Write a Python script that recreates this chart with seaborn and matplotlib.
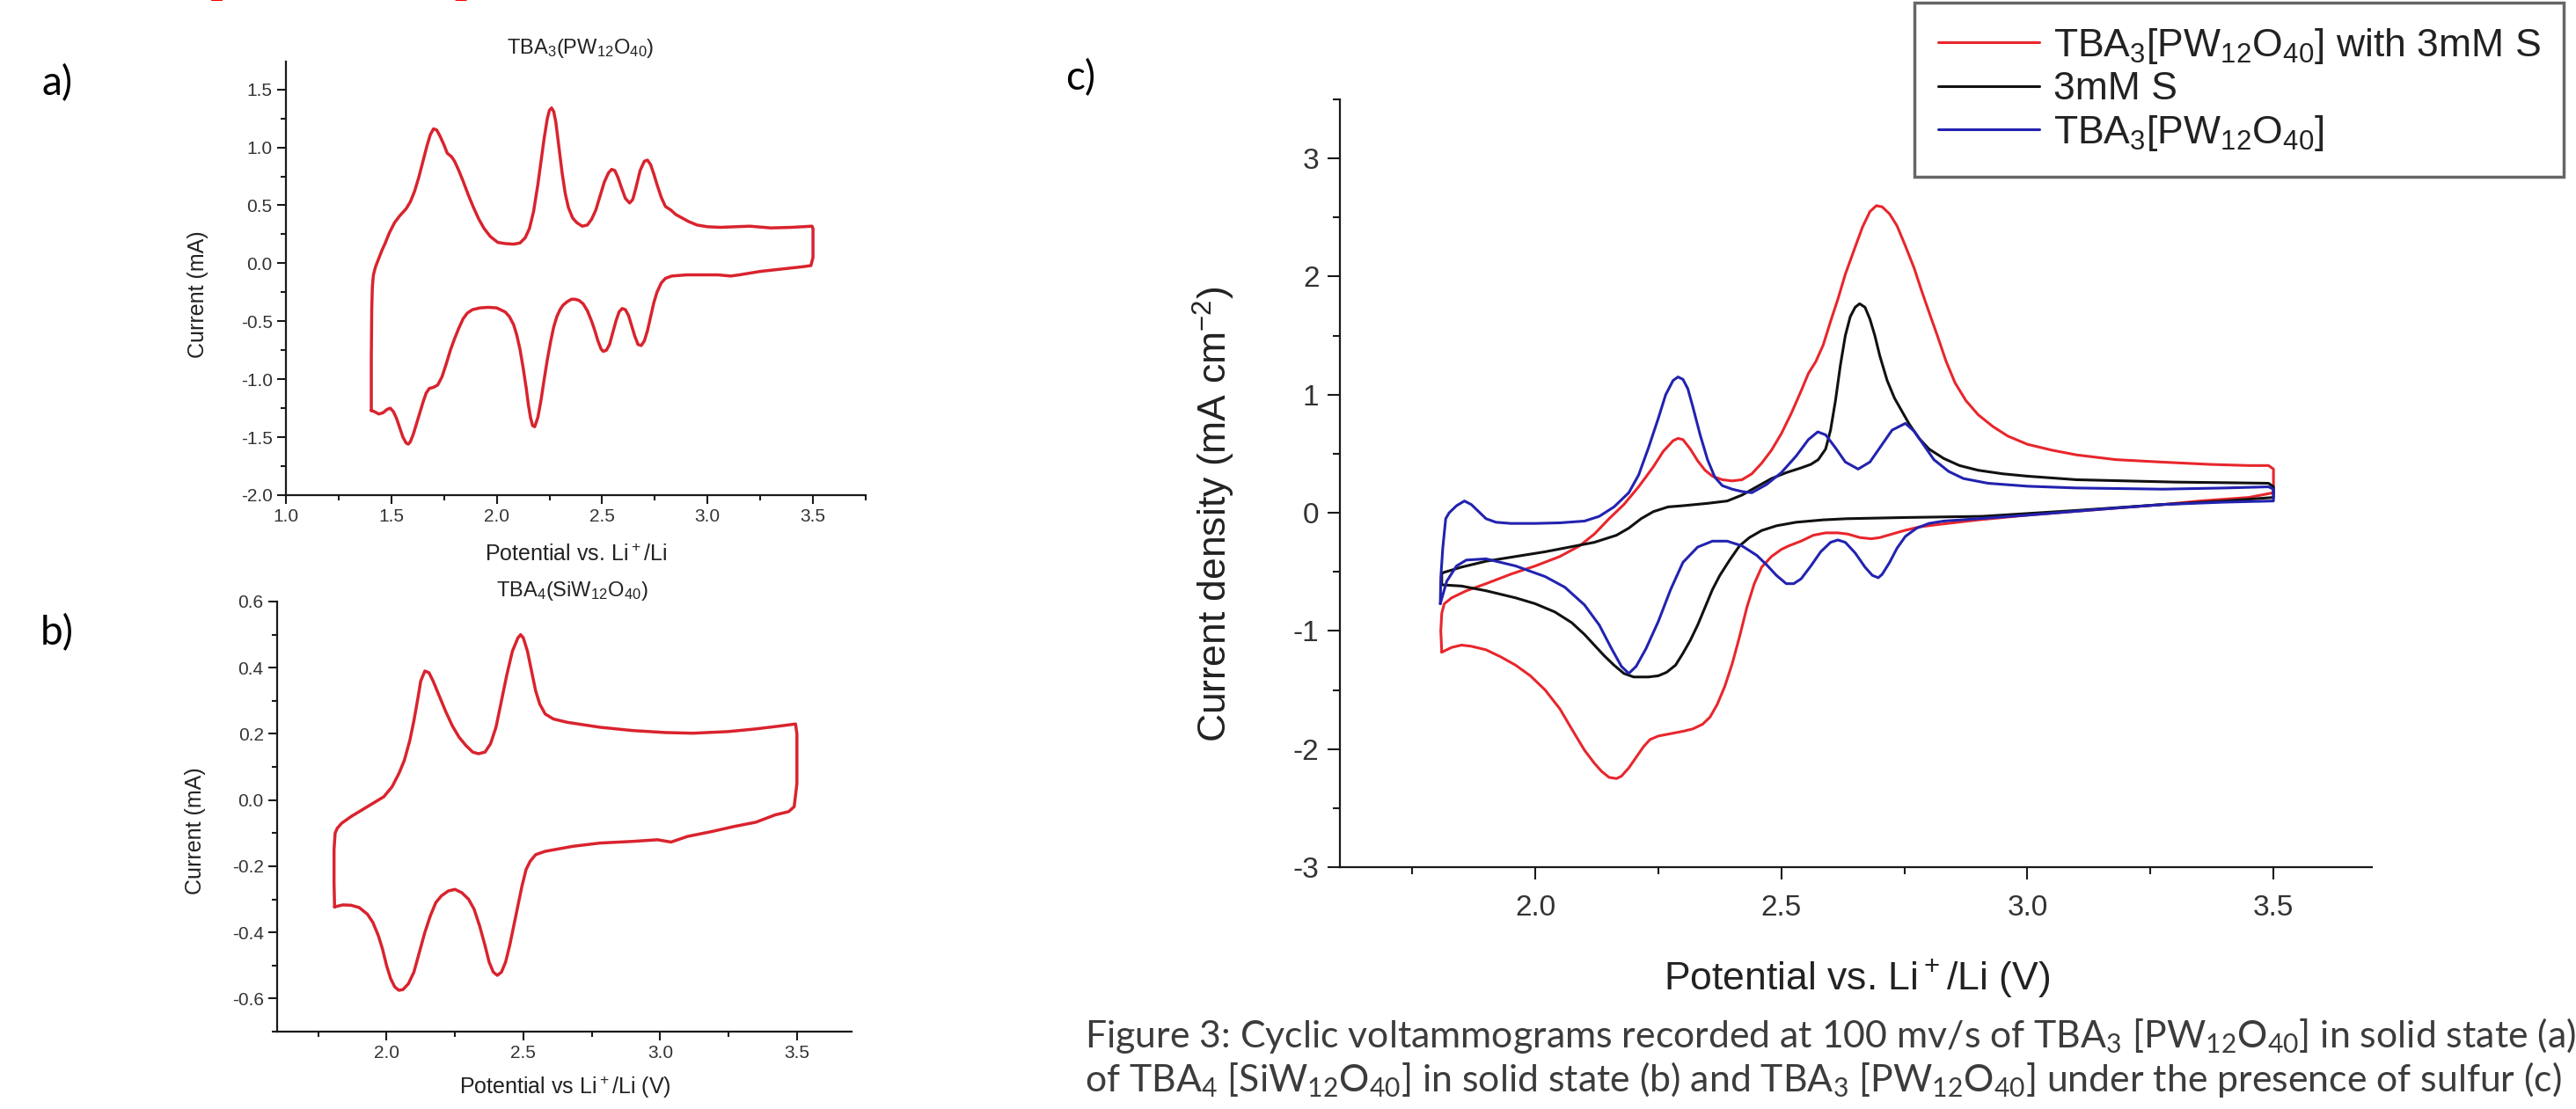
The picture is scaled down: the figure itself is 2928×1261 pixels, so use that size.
import numpy as np
import matplotlib
matplotlib.use("Agg")
import matplotlib.pyplot as plt
from matplotlib.ticker import MultipleLocator, FormatStrFormatter
import seaborn as sns

# ---- data ----
# a) TBA3(PW12O40): anodic sweep (left -> right), then cathodic sweep back
a_x = [1.405, 1.405, 1.407, 1.41, 1.415, 1.425, 1.44, 1.455, 1.47, 1.49, 1.515, 1.54, 1.57, 1.59, 1.61,
       1.63, 1.65, 1.67, 1.685, 1.70, 1.715, 1.73, 1.75, 1.765, 1.785, 1.80, 1.82, 1.84, 1.865, 1.89,
       1.915, 1.94, 1.97, 2.005, 2.04, 2.08, 2.11, 2.135, 2.155, 2.175, 2.195, 2.21, 2.225, 2.24, 2.25,
       2.26, 2.27, 2.28, 2.295, 2.31, 2.325, 2.34, 2.36, 2.38, 2.405, 2.43, 2.45, 2.47, 2.49, 2.51,
       2.53, 2.545, 2.56, 2.575, 2.59, 2.61, 2.63, 2.645, 2.66, 2.68, 2.70, 2.715, 2.73, 2.745, 2.76,
       2.78, 2.80, 2.825, 2.85, 2.88, 2.91, 2.95, 3.0, 3.06, 3.13, 3.2, 3.3, 3.4, 3.495,
       3.50, 3.50, 3.49,
       3.45, 3.35, 3.25, 3.15, 3.11, 3.05, 3.0, 2.9, 2.83, 2.80, 2.78, 2.76, 2.745, 2.73, 2.715,
       2.70, 2.685, 2.67, 2.655, 2.64, 2.625, 2.61, 2.595, 2.58, 2.565, 2.55, 2.535, 2.52, 2.505, 2.495,
       2.48, 2.465, 2.45, 2.43, 2.41, 2.39, 2.37, 2.355, 2.335, 2.315, 2.30, 2.285, 2.27, 2.255, 2.24,
       2.225, 2.21, 2.195, 2.18, 2.17, 2.16, 2.15, 2.14, 2.125, 2.11, 2.095, 2.08, 2.06, 2.04, 2.0,
       1.96, 1.92, 1.885, 1.86, 1.84, 1.82, 1.80, 1.78, 1.76, 1.74, 1.72, 1.70, 1.68, 1.665, 1.65,
       1.635, 1.62, 1.605, 1.59, 1.58, 1.57, 1.555, 1.54, 1.525, 1.51, 1.495, 1.48, 1.46, 1.44, 1.42,
       1.405]
a_y = [-1.27, -0.80, -0.40, -0.20, -0.10, -0.03, 0.04, 0.11, 0.17, 0.26, 0.35, 0.41, 0.47, 0.53, 0.62,
       0.74, 0.88, 1.02, 1.11, 1.16, 1.15, 1.10, 1.02, 0.95, 0.92, 0.88, 0.80, 0.71, 0.59, 0.48,
       0.38, 0.30, 0.23, 0.18, 0.17, 0.165, 0.175, 0.22, 0.30, 0.45, 0.68, 0.88, 1.08, 1.25, 1.32,
       1.34, 1.31, 1.22, 1.00, 0.78, 0.60, 0.48, 0.39, 0.35, 0.32, 0.33, 0.38, 0.46, 0.58, 0.70,
       0.78, 0.81, 0.80, 0.74, 0.66, 0.56, 0.52, 0.55, 0.65, 0.80, 0.88, 0.89, 0.85, 0.77, 0.68,
       0.57, 0.49, 0.46, 0.42, 0.39, 0.36, 0.33, 0.315, 0.31, 0.315, 0.32, 0.305, 0.31, 0.32,
       0.30, 0.05, -0.02,
       -0.03, -0.05, -0.07, -0.10, -0.11, -0.10, -0.10, -0.10, -0.11, -0.13, -0.17, -0.25, -0.34, -0.46, -0.58,
       -0.67, -0.71, -0.70, -0.63, -0.54, -0.45, -0.40, -0.39, -0.42, -0.50, -0.60, -0.70, -0.75, -0.76, -0.74,
       -0.67, -0.58, -0.50, -0.41, -0.35, -0.32, -0.31, -0.31, -0.33, -0.36, -0.40, -0.46, -0.55, -0.68, -0.83,
       -1.00, -1.18, -1.33, -1.41, -1.40, -1.33, -1.22, -1.08, -0.90, -0.74, -0.62, -0.53, -0.46, -0.42, -0.385,
       -0.38, -0.385, -0.40, -0.43, -0.48, -0.56, -0.65, -0.75, -0.87, -0.98, -1.05, -1.07, -1.08, -1.12, -1.20,
       -1.29, -1.38, -1.47, -1.54, -1.56, -1.55, -1.50, -1.42, -1.34, -1.28, -1.25, -1.26, -1.29, -1.30, -1.28,
       -1.27]

# b) TBA4(SiW12O40)
b_x = [1.81, 1.808, 1.808, 1.812, 1.82, 1.836, 1.87, 1.91, 1.95, 1.99, 2.02, 2.045, 2.065, 2.085, 2.10,
       2.115, 2.125, 2.14, 2.155, 2.17, 2.19, 2.215, 2.24, 2.265, 2.29, 2.315, 2.336, 2.36, 2.38, 2.40,
       2.42, 2.44, 2.46, 2.48, 2.49, 2.50, 2.515, 2.53, 2.545, 2.56, 2.58, 2.61, 2.66, 2.78, 2.90,
       3.02, 3.12, 3.25, 3.35, 3.45, 3.495, 3.50, 3.50, 3.49,
       3.47, 3.42, 3.35, 3.27, 3.19, 3.10, 3.04, 2.99, 2.90, 2.78, 2.68, 2.58, 2.545, 2.525, 2.51,
       2.495, 2.48, 2.465, 2.45, 2.435, 2.42, 2.405, 2.39, 2.375, 2.36, 2.34, 2.32, 2.30, 2.275, 2.25,
       2.225, 2.20, 2.18, 2.16, 2.14, 2.12, 2.10, 2.08, 2.06, 2.045, 2.03, 2.015, 2.0, 1.985, 1.97,
       1.95, 1.93, 1.90, 1.87, 1.84, 1.81]
b_y = [-0.323, -0.25, -0.15, -0.10, -0.085, -0.07, -0.05, -0.03, -0.01, 0.01, 0.04, 0.08, 0.12, 0.18, 0.24,
       0.31, 0.36, 0.39, 0.385, 0.36, 0.32, 0.27, 0.225, 0.19, 0.165, 0.145, 0.14, 0.145, 0.17, 0.22,
       0.30, 0.38, 0.45, 0.49, 0.50, 0.49, 0.45, 0.39, 0.33, 0.29, 0.26, 0.245, 0.235, 0.22, 0.21,
       0.204, 0.202, 0.207, 0.215, 0.225, 0.23, 0.20, 0.05, -0.02,
       -0.035, -0.045, -0.067, -0.08, -0.095, -0.11, -0.127, -0.12, -0.125, -0.13, -0.14, -0.155, -0.165, -0.185, -0.21,
       -0.26, -0.32, -0.38, -0.44, -0.49, -0.52, -0.53, -0.52, -0.49, -0.44, -0.38, -0.33, -0.30, -0.28, -0.27,
       -0.275, -0.29, -0.31, -0.35, -0.40, -0.46, -0.52, -0.555, -0.573, -0.575, -0.565, -0.54, -0.50, -0.45, -0.41,
       -0.37, -0.345, -0.325, -0.318, -0.317, -0.323]

# c) TBA3[PW12O40] with 3mM S
red_x = [1.81, 1.808, 1.81, 1.815, 1.83, 1.86, 1.90, 1.95, 2.00, 2.05, 2.09, 2.12, 2.15, 2.18, 2.21,
         2.24, 2.26, 2.28, 2.29, 2.30, 2.315, 2.33, 2.345, 2.36, 2.38, 2.40, 2.42, 2.44, 2.46, 2.48,
         2.50, 2.52, 2.54, 2.555, 2.57, 2.585, 2.60, 2.615, 2.63, 2.65, 2.665, 2.68, 2.693, 2.705, 2.72,
         2.735, 2.752, 2.77, 2.785, 2.80, 2.817, 2.835, 2.853, 2.875, 2.90, 2.93, 2.96, 3.0, 3.05, 3.10,
         3.18, 3.27, 3.37, 3.45, 3.49, 3.50, 3.50,
         3.45, 3.35, 3.275, 3.15, 3.0, 2.90, 2.817, 2.78, 2.75, 2.725, 2.70, 2.683, 2.66, 2.635, 2.615,
         2.59, 2.565, 2.54, 2.515, 2.50, 2.48, 2.46, 2.445, 2.43, 2.415, 2.40, 2.385, 2.37, 2.355, 2.34,
         2.32, 2.30, 2.275, 2.25, 2.233, 2.22, 2.205, 2.19, 2.175, 2.165, 2.15, 2.135, 2.12, 2.10, 2.074,
         2.05, 2.02, 1.99, 1.96, 1.93, 1.90, 1.87, 1.85, 1.83, 1.81]
red_y = [-1.18, -1.00, -0.85, -0.77, -0.72, -0.66, -0.60, -0.52, -0.45, -0.37, -0.28, -0.18, -0.05, 0.07, 0.22,
         0.39, 0.52, 0.61, 0.63, 0.62, 0.54, 0.44, 0.36, 0.31, 0.28, 0.27, 0.28, 0.33, 0.42, 0.53,
         0.67, 0.84, 1.03, 1.18, 1.28, 1.42, 1.62, 1.81, 2.02, 2.25, 2.42, 2.55, 2.60, 2.59, 2.53,
         2.43, 2.26, 2.07, 1.88, 1.70, 1.50, 1.28, 1.10, 0.95, 0.83, 0.73, 0.65, 0.58, 0.53, 0.49,
         0.45, 0.43, 0.41, 0.40, 0.40, 0.37, 0.17,
         0.13, 0.10, 0.07, 0.03, -0.02, -0.06, -0.10, -0.12, -0.15, -0.18, -0.21, -0.22, -0.21, -0.18, -0.17,
         -0.17, -0.19, -0.24, -0.28, -0.31, -0.37, -0.46, -0.60, -0.80, -1.05, -1.28, -1.47, -1.62, -1.73, -1.79,
         -1.83, -1.85, -1.87, -1.89, -1.92, -1.98, -2.07, -2.16, -2.23, -2.25, -2.24, -2.19, -2.12, -2.01, -1.83,
         -1.66, -1.50, -1.38, -1.29, -1.22, -1.16, -1.13, -1.12, -1.14, -1.18]

# c) 3mM S
blk_x = [1.81, 1.85, 1.90, 1.96, 2.02, 2.07, 2.12, 2.165, 2.19, 2.215, 2.24, 2.27, 2.30, 2.35, 2.39,
         2.42, 2.45, 2.48, 2.51, 2.54, 2.56, 2.575, 2.59, 2.60, 2.61, 2.62, 2.63, 2.64, 2.65, 2.659,
         2.67, 2.68, 2.69, 2.70, 2.715, 2.73, 2.745, 2.76, 2.78, 2.80, 2.83, 2.862, 2.90, 2.95, 3.0,
         3.1, 3.2, 3.3, 3.4, 3.49, 3.50, 3.50,
         3.40, 3.275, 3.10, 2.908, 2.75, 2.633, 2.585, 2.53, 2.49, 2.46, 2.435, 2.415, 2.395, 2.375, 2.36,
         2.345, 2.33, 2.315, 2.30, 2.285, 2.267, 2.25, 2.23, 2.20, 2.18, 2.16, 2.14, 2.12, 2.10, 2.074,
         2.04, 2.0, 1.96, 1.90, 1.85, 1.81, 1.81]
blk_y = [-0.51, -0.46, -0.41, -0.37, -0.33, -0.29, -0.25, -0.19, -0.13, -0.05, 0.01, 0.05, 0.06, 0.08, 0.10,
         0.15, 0.22, 0.29, 0.34, 0.38, 0.41, 0.45, 0.54, 0.70, 0.95, 1.25, 1.50, 1.66, 1.74, 1.77,
         1.74, 1.64, 1.50, 1.33, 1.12, 0.97, 0.86, 0.75, 0.63, 0.54, 0.46, 0.40, 0.36, 0.33, 0.31,
         0.28, 0.27, 0.26, 0.255, 0.25, 0.22, 0.13,
         0.10, 0.07, 0.02, -0.03, -0.04, -0.05, -0.06, -0.08, -0.11, -0.15, -0.21, -0.28, -0.40, -0.53, -0.65,
         -0.80, -0.95, -1.08, -1.19, -1.29, -1.35, -1.38, -1.39, -1.39, -1.36, -1.29, -1.21, -1.12, -1.03, -0.93,
         -0.84, -0.77, -0.72, -0.66, -0.62, -0.61, -0.51]

# c) TBA3[PW12O40]
blu_x = [1.807, 1.808, 1.812, 1.818, 1.825, 1.84, 1.856, 1.87, 1.885, 1.90, 1.92, 1.95, 2.0, 2.05, 2.10,
         2.13, 2.16, 2.19, 2.21, 2.23, 2.25, 2.265, 2.28, 2.29, 2.30, 2.31, 2.32, 2.335, 2.35, 2.365,
         2.38, 2.40, 2.42, 2.44, 2.47, 2.50, 2.53, 2.555, 2.574, 2.59, 2.61, 2.63, 2.656, 2.68, 2.70,
         2.725, 2.752, 2.77, 2.79, 2.81, 2.84, 2.87, 2.92, 3.0, 3.1, 3.275, 3.4, 3.49, 3.50, 3.50,
         3.40, 3.275, 3.15, 3.0, 2.90, 2.83, 2.80, 2.775, 2.752, 2.735, 2.72, 2.705, 2.697, 2.685, 2.67,
         2.65, 2.63, 2.615, 2.60, 2.58, 2.56, 2.54, 2.525, 2.51, 2.49, 2.47, 2.45, 2.42, 2.39, 2.36,
         2.33, 2.30, 2.275, 2.25, 2.225, 2.205, 2.19, 2.175, 2.155, 2.13, 2.10, 2.06, 2.02, 1.96, 1.90,
         1.86, 1.84, 1.82, 1.807]
blu_y = [-0.77, -0.55, -0.30, -0.05, 0.0, 0.06, 0.10, 0.07, 0.01, -0.05, -0.08, -0.09, -0.09, -0.085, -0.07,
         -0.03, 0.05, 0.17, 0.32, 0.55, 0.80, 1.00, 1.12, 1.15, 1.13, 1.05, 0.90, 0.66, 0.45, 0.30,
         0.23, 0.20, 0.18, 0.17, 0.24, 0.34, 0.48, 0.62, 0.685, 0.66, 0.55, 0.43, 0.37, 0.43, 0.55,
         0.70, 0.757, 0.69, 0.57, 0.45, 0.35, 0.29, 0.25, 0.225, 0.21, 0.20, 0.21, 0.22, 0.20, 0.10,
         0.09, 0.07, 0.03, -0.02, -0.05, -0.07, -0.09, -0.13, -0.20, -0.30, -0.42, -0.52, -0.55, -0.53, -0.46,
         -0.34, -0.25, -0.23, -0.25, -0.33, -0.45, -0.56, -0.60, -0.60, -0.53, -0.44, -0.36, -0.28, -0.24, -0.24,
         -0.29, -0.42, -0.65, -0.92, -1.15, -1.30, -1.36, -1.30, -1.15, -0.95, -0.78, -0.63, -0.54, -0.45, -0.39,
         -0.40, -0.45, -0.58, -0.77]

leg_labels = ["TBA$_3$[PW$_{12}$O$_{40}$] with 3mM S", "3mM S", "TBA$_3$[PW$_{12}$O$_{40}$]"]

caption1 = "Figure 3: Cyclic voltammograms recorded at 100 mv/s of TBA$_3$ [PW$_{12}$O$_{40}$] in solid state (a)"
caption2 = "of TBA$_4$ [SiW$_{12}$O$_{40}$] in solid state (b) and TBA$_3$ [PW$_{12}$O$_{40}$] under the presence of sulfur (c)"

# ---- style ----
sns.set_theme(style="ticks")
plt.rcParams["font.family"] = ["Liberation Sans", "DejaVu Sans"]
plt.rcParams["mathtext.default"] = "regular"
plt.rcParams["axes.unicode_minus"] = False

W, H = 2928, 1261
fig = plt.figure(figsize=(W / 100, H / 100), dpi=100)
fig.patch.set_facecolor("white")


def rect(l, t, r, b):
    return [l / W, 1 - b / H, (r - l) / W, (b - t) / H]


def fp(x, y):
    return (x / W, 1 - y / H)


def style(ax, fs, maj, mino, pad):
    sns.despine(ax=ax)
    for s in ["left", "bottom"]:
        ax.spines[s].set_linewidth(1.6)
        ax.spines[s].set_color("#1a1a1a")
    ax.tick_params(which="both", direction="out", width=1.5, color="#1a1a1a",
                   labelsize=fs, labelcolor="#333333", pad=pad)
    ax.tick_params(which="major", length=maj)
    ax.tick_params(which="minor", length=mino)
    ax.set_facecolor("white")


def cv(ax, xs, ys, color, lw, label=None):
    sns.lineplot(x=xs, y=ys, sort=False, estimator=None, color=color, lw=lw, ax=ax, label=label)


# ---- panel a ----
ax_a = fig.add_axes(rect(325, 70, 984, 563))
cv(ax_a, a_x, a_y, "#d9232e", 2.5)
ax_a.set_xlim(1.0, 3.75)
ax_a.set_ylim(-2.0, 1.74)
ax_a.xaxis.set_major_locator(MultipleLocator(0.5))
ax_a.xaxis.set_minor_locator(MultipleLocator(0.25))
ax_a.yaxis.set_major_locator(MultipleLocator(0.5))
ax_a.yaxis.set_minor_locator(MultipleLocator(0.25))
ax_a.xaxis.set_major_formatter(FormatStrFormatter("%.1f"))
ax_a.yaxis.set_major_formatter(FormatStrFormatter("%.1f"))
style(ax_a, 15, 7, 4, 4)
ax_a.set_xlabel("Potential vs. Li$^+$/Li", fontsize=18, color="#222222")
ax_a.xaxis.set_label_coords(*fp(655, 631), transform=fig.transFigure)
ax_a.xaxis.label.set_va("center")
ax_a.set_ylabel("Current (mA)", fontsize=18, color="#222222")
ax_a.yaxis.set_label_coords(*fp(225, 335), transform=fig.transFigure)
ax_a.yaxis.label.set_va("center")
fig.text(*fp(660, 55), "TBA$_3$(PW$_{12}$O$_{40}$)", fontsize=17, ha="center", va="center", color="#222222")

# ---- panel b ----
ax_b = fig.add_axes(rect(315, 684, 968, 1173))
cv(ax_b, b_x, b_y, "#d9232e", 2.5)
ax_b.set_xlim(1.60, 3.70)
ax_b.set_ylim(-0.70, 0.60)
ax_b.xaxis.set_major_locator(MultipleLocator(0.5))
ax_b.xaxis.set_minor_locator(MultipleLocator(0.25))
ax_b.yaxis.set_major_locator(MultipleLocator(0.2))
ax_b.yaxis.set_minor_locator(MultipleLocator(0.1))
ax_b.xaxis.set_major_formatter(FormatStrFormatter("%.1f"))
ax_b.yaxis.set_major_formatter(FormatStrFormatter("%.1f"))
style(ax_b, 15, 7, 4, 4)
ax_b.set_xlabel("Potential vs Li$^+$/Li (V)", fontsize=18, color="#222222")
ax_b.xaxis.set_label_coords(*fp(642, 1236), transform=fig.transFigure)
ax_b.xaxis.label.set_va("center")
ax_b.set_ylabel("Current (mA)", fontsize=18, color="#222222")
ax_b.yaxis.set_label_coords(*fp(222, 945), transform=fig.transFigure)
ax_b.yaxis.label.set_va("center")
fig.text(*fp(650, 672), "TBA$_4$(SiW$_{12}$O$_{40}$)", fontsize=17, ha="center", va="center", color="#222222")

# ---- panel c ----
ax_c = fig.add_axes(rect(1523, 113, 2696, 986))
cv(ax_c, red_x, red_y, "#e8262c", 2.2, leg_labels[0])
cv(ax_c, blk_x, blk_y, "#111111", 2.2, leg_labels[1])
cv(ax_c, blu_x, blu_y, "#2222b0", 2.2, leg_labels[2])
ax_c.set_xlim(1.603, 3.70)
ax_c.set_ylim(-3.0, 3.5)
ax_c.xaxis.set_major_locator(MultipleLocator(0.5))
ax_c.xaxis.set_minor_locator(MultipleLocator(0.25))
ax_c.yaxis.set_major_locator(MultipleLocator(1))
ax_c.yaxis.set_minor_locator(MultipleLocator(0.5))
ax_c.xaxis.set_major_formatter(FormatStrFormatter("%.1f"))
ax_c.yaxis.set_major_formatter(FormatStrFormatter("%d"))
style(ax_c, 24, 10, 6, 7)
ax_c.tick_params(axis="x", pad=12)
ax_c.set_xlabel("Potential vs. Li$^+$/Li (V)", fontsize=32, color="#222222")
ax_c.xaxis.set_label_coords(*fp(2111, 1112), transform=fig.transFigure)
ax_c.xaxis.label.set_va("center")
ax_c.set_ylabel("Current density (mA cm$^{-2}$)", fontsize=32, color="#222222")
ax_c.yaxis.set_label_coords(*fp(1380, 585), transform=fig.transFigure)
ax_c.yaxis.label.set_va("center")

leg = ax_c.legend(loc="upper left", bbox_to_anchor=fp(2176, 3), bbox_transform=fig.transFigure,
                  fontsize=32, frameon=True, fancybox=False, framealpha=1, edgecolor="#666666",
                  handlelength=2.6, handletextpad=0.35, borderpad=0.6, labelspacing=0.15,
                  borderaxespad=0)
leg.get_frame().set_linewidth(2.5)
for t in leg.get_texts():
    t.set_color("#222222")

# ---- panel letters ----
for lab, x, y in [("a)", 65, 95), ("b)", 65, 720), ("c)", 1228, 89)]:
    fig.text(*fp(x, y), lab, fontsize=33, family=["Lato", "DejaVu Sans"], ha="center", va="center", color="black")

# red heading of the page, cut off by the top edge as in the source
fig.text(*fp(70, -9), "TBA$_3$ [PW$_{12}$O$_{40}$]", fontsize=45, fontweight="bold",
         family=["Lato", "DejaVu Sans"], color="#ff0000", ha="left", va="baseline")

# ---- caption ----
c1 = fig.text(*fp(1233, 1177), caption1, fontsize=30, family=["Lato", "DejaVu Sans"],
              ha="left", va="center", color="#3c3c3c")
c2 = fig.text(*fp(1233, 1227), caption2, fontsize=30, family=["Lato", "DejaVu Sans"],
              ha="left", va="center", color="#3c3c3c")
renderer = fig.canvas.get_renderer()
w2 = c2.get_window_extent(renderer=renderer).width
fs = 30 * 1680 / w2
c1.set_fontsize(fs)
c2.set_fontsize(fs)

fig.savefig("out.png", dpi=100, facecolor="white")
